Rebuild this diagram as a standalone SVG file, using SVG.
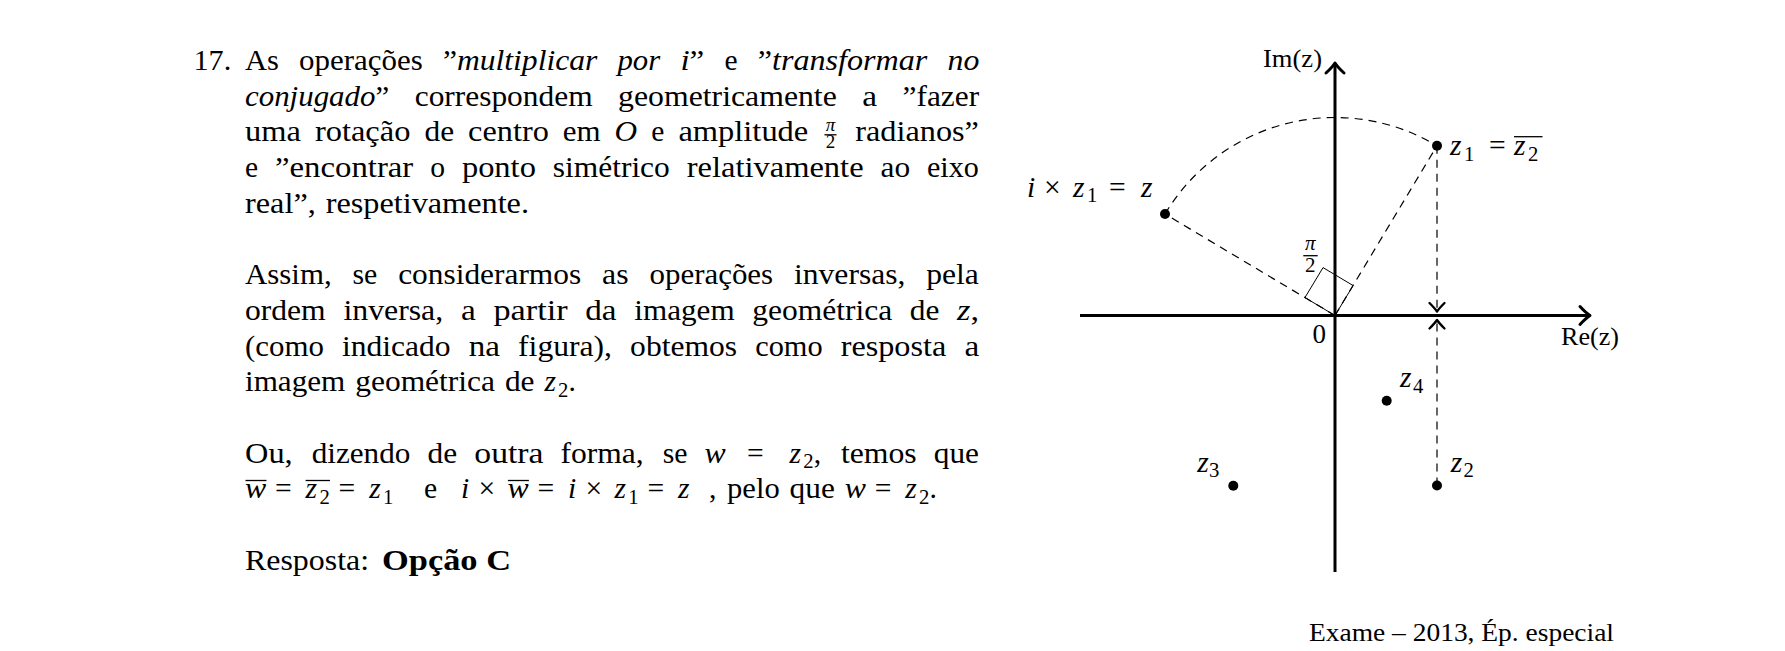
<svg xmlns="http://www.w3.org/2000/svg" width="1785" height="651" viewBox="0 0 1785 651">
<style>
text{font-family:"Liberation Serif","Times New Roman",serif;font-size:29.6px;fill:#000}
.it{font-style:italic}
.b{font-weight:bold}
.sub{font-size:20.7px}
.sm{font-size:24.5px}
.fr{font-size:19px}
.dash{fill:none;stroke:#000;stroke-width:1.2;stroke-dasharray:8 6}
.ax{fill:none;stroke:#000;stroke-width:3}
.thin{fill:none;stroke:#000;stroke-width:1}
.ovl{stroke:#000;stroke-width:1.3}
.dot{fill:#000}
</style>
<defs>
<marker id="axArrow" markerUnits="userSpaceOnUse" markerWidth="24" markerHeight="24" viewBox="-12 -12 24 24" refX="0" refY="0" orient="auto" overflow="visible">
<path d="M -9 -9 Q -3 -2.5 1 0 Q -3 2.5 -9 9" fill="none" stroke="#000" stroke-width="3" stroke-linecap="round" stroke-linejoin="round"/>
</marker>
<marker id="dashArrow" markerUnits="userSpaceOnUse" markerWidth="20" markerHeight="20" viewBox="-10 -10 20 20" refX="0" refY="0" orient="auto" overflow="visible">
<path d="M -8 -7.5 Q -2.5 -2 0.5 0 Q -2.5 2 -8 7.5" fill="none" stroke="#000" stroke-width="2.3" stroke-linecap="round" stroke-linejoin="round"/>
</marker>
</defs>
<rect width="1785" height="651" fill="#fff"/>

<g id="body-text">
<!-- line 1 -->
<text x="193.5" y="70" textLength="37.8" lengthAdjust="spacingAndGlyphs">17.</text>
<text x="245" y="70" textLength="33.9" lengthAdjust="spacingAndGlyphs">As</text>
<text x="299.1" y="70" textLength="123.6" lengthAdjust="spacingAndGlyphs">operações</text>
<text x="442.9" y="70" textLength="154.4" lengthAdjust="spacingAndGlyphs">”<tspan class="it">multiplicar</tspan></text>
<text x="617.5" y="70" class="it" textLength="42.7" lengthAdjust="spacingAndGlyphs">por</text>
<text x="680.4" y="70" textLength="23.9" lengthAdjust="spacingAndGlyphs"><tspan class="it">i</tspan>”</text>
<text x="724.5" y="70" textLength="13.1" lengthAdjust="spacingAndGlyphs">e</text>
<text x="757.8" y="70" textLength="169.5" lengthAdjust="spacingAndGlyphs">”<tspan class="it">transformar</tspan></text>
<text x="947.5" y="70" class="it" textLength="31.8" lengthAdjust="spacingAndGlyphs">no</text>
<!-- line 2 -->
<text x="245" y="105.7" textLength="144.2" lengthAdjust="spacingAndGlyphs"><tspan class="it">conjugado</tspan>”</text>
<text x="414.7" y="105.7" textLength="177.9" lengthAdjust="spacingAndGlyphs">correspondem</text>
<text x="618.1" y="105.7" textLength="218.7" lengthAdjust="spacingAndGlyphs">geometricamente</text>
<text x="862.3" y="105.7" textLength="14.8" lengthAdjust="spacingAndGlyphs">a</text>
<text x="902.6" y="105.7" textLength="76.5" lengthAdjust="spacingAndGlyphs">”fazer</text>
<!-- line 3 -->
<text x="245" y="141.4" textLength="55.9" lengthAdjust="spacingAndGlyphs">uma</text>
<text x="314.9" y="141.4" textLength="95.5" lengthAdjust="spacingAndGlyphs">rotação</text>
<text x="424.5" y="141.4" textLength="29.6" lengthAdjust="spacingAndGlyphs">de</text>
<text x="468.1" y="141.4" textLength="80.7" lengthAdjust="spacingAndGlyphs">centro</text>
<text x="562.8" y="141.4" textLength="37.8" lengthAdjust="spacingAndGlyphs">em</text>
<text x="614.6" y="141.4" class="it" textLength="22.6" lengthAdjust="spacingAndGlyphs">O</text>
<text x="651.3" y="141.4" textLength="13.1" lengthAdjust="spacingAndGlyphs">e</text>
<text x="678.4" y="141.4" textLength="129.9" lengthAdjust="spacingAndGlyphs">amplitude</text>
<text x="830.5" y="131" class="it fr" text-anchor="middle">π</text>
<line x1="824.5" y1="134.8" x2="836.5" y2="134.8" class="ovl" stroke-width="1.1"/>
<text x="830.5" y="147.5" class="fr" text-anchor="middle">2</text>
<text x="855.3" y="141.4" textLength="123.6" lengthAdjust="spacingAndGlyphs">radianos”</text>
<!-- line 4 -->
<text x="245" y="177.1" textLength="13.1" lengthAdjust="spacingAndGlyphs">e</text>
<text x="275" y="177.1" textLength="138.3" lengthAdjust="spacingAndGlyphs">”encontrar</text>
<text x="430.2" y="177.1" textLength="14.8" lengthAdjust="spacingAndGlyphs">o</text>
<text x="461.9" y="177.1" textLength="74" lengthAdjust="spacingAndGlyphs">ponto</text>
<text x="552.8" y="177.1" textLength="117" lengthAdjust="spacingAndGlyphs">simétrico</text>
<text x="686.7" y="177.1" textLength="176.9" lengthAdjust="spacingAndGlyphs">relativamente</text>
<text x="880.5" y="177.1" textLength="29.6" lengthAdjust="spacingAndGlyphs">ao</text>
<text x="927" y="177.1" textLength="51.8" lengthAdjust="spacingAndGlyphs">eixo</text>
<!-- line 5 -->
<text x="245" y="212.8" textLength="70.8" lengthAdjust="spacingAndGlyphs">real”,</text>
<text x="325.7" y="212.8" textLength="203.3" lengthAdjust="spacingAndGlyphs">respetivamente.</text>
<!-- line 6 -->
<text x="245" y="284.2" textLength="86.6" lengthAdjust="spacingAndGlyphs">Assim,</text>
<text x="352.5" y="284.2" textLength="24.8" lengthAdjust="spacingAndGlyphs">se</text>
<text x="398.2" y="284.2" textLength="183" lengthAdjust="spacingAndGlyphs">considerarmos</text>
<text x="602.1" y="284.2" textLength="26.5" lengthAdjust="spacingAndGlyphs">as</text>
<text x="649.5" y="284.2" textLength="123.6" lengthAdjust="spacingAndGlyphs">operações</text>
<text x="794" y="284.2" textLength="111.4" lengthAdjust="spacingAndGlyphs">inversas,</text>
<text x="926.3" y="284.2" textLength="52.6" lengthAdjust="spacingAndGlyphs">pela</text>
<!-- line 7 -->
<text x="245" y="319.9" textLength="80.7" lengthAdjust="spacingAndGlyphs">ordem</text>
<text x="343.4" y="319.9" textLength="99.8" lengthAdjust="spacingAndGlyphs">inversa,</text>
<text x="460.9" y="319.9" textLength="14.8" lengthAdjust="spacingAndGlyphs">a</text>
<text x="493.4" y="319.9" textLength="74.2" lengthAdjust="spacingAndGlyphs">partir</text>
<text x="585.3" y="319.9" textLength="31.3" lengthAdjust="spacingAndGlyphs">da</text>
<text x="634.3" y="319.9" textLength="100.3" lengthAdjust="spacingAndGlyphs">imagem</text>
<text x="752.3" y="319.9" textLength="139.8" lengthAdjust="spacingAndGlyphs">geométrica</text>
<text x="909.8" y="319.9" textLength="29.6" lengthAdjust="spacingAndGlyphs">de</text>
<text x="957.1" y="319.9" textLength="22" lengthAdjust="spacingAndGlyphs"><tspan class="it">z</tspan>,</text>
<!-- line 8 -->
<text x="245" y="355.6" textLength="78.9" lengthAdjust="spacingAndGlyphs">(como</text>
<text x="342" y="355.6" textLength="108.6" lengthAdjust="spacingAndGlyphs">indicado</text>
<text x="468.7" y="355.6" textLength="31.3" lengthAdjust="spacingAndGlyphs">na</text>
<text x="518.1" y="355.6" textLength="93.9" lengthAdjust="spacingAndGlyphs">figura),</text>
<text x="630.1" y="355.6" textLength="107" lengthAdjust="spacingAndGlyphs">obtemos</text>
<text x="755.2" y="355.6" textLength="67.4" lengthAdjust="spacingAndGlyphs">como</text>
<text x="840.7" y="355.6" textLength="105.6" lengthAdjust="spacingAndGlyphs">resposta</text>
<text x="964.4" y="355.6" textLength="14.8" lengthAdjust="spacingAndGlyphs">a</text>
<!-- line 9 -->
<text x="245" y="391.3" textLength="100.3" lengthAdjust="spacingAndGlyphs">imagem</text>
<text x="355.2" y="391.3" textLength="139.8" lengthAdjust="spacingAndGlyphs">geométrica</text>
<text x="504.9" y="391.3" textLength="29.6" lengthAdjust="spacingAndGlyphs">de</text>
<text x="544.4" y="391.3" class="it">z</text>
<text x="558" y="397" class="sub">2</text>
<text x="568.6" y="391.3">.</text>
<!-- line 10 -->
<text x="245" y="462.7" textLength="47.7" lengthAdjust="spacingAndGlyphs">Ou,</text>
<text x="311.7" y="462.7" textLength="98.7" lengthAdjust="spacingAndGlyphs">dizendo</text>
<text x="427.5" y="462.7" textLength="29.6" lengthAdjust="spacingAndGlyphs">de</text>
<text x="474.3" y="462.7" textLength="69.2" lengthAdjust="spacingAndGlyphs">outra</text>
<text x="560.6" y="462.7" textLength="83.1" lengthAdjust="spacingAndGlyphs">forma,</text>
<text x="662.7" y="462.7" textLength="24.8" lengthAdjust="spacingAndGlyphs">se</text>
<text x="704.6" y="462.7" class="it" textLength="21.2" lengthAdjust="spacingAndGlyphs">w</text>
<text x="747" y="462.7">=</text>
<text x="789.5" y="462.7" class="it">z</text>
<text x="803.3" y="468.4" class="sub">2</text>
<text x="813.7" y="462.7">,</text>
<text x="840.9" y="462.7" textLength="75.8" lengthAdjust="spacingAndGlyphs">temos</text>
<text x="933.8" y="462.7" textLength="45.2" lengthAdjust="spacingAndGlyphs">que</text>
<!-- line 11 -->
<text x="245" y="498.4" class="it" textLength="21.2" lengthAdjust="spacingAndGlyphs">w</text>
<line x1="245.5" y1="480.5" x2="266.5" y2="480.5" class="ovl"/>
<text x="275" y="498.4">=</text>
<text x="305.6" y="498.4" class="it">z</text>
<text x="319.4" y="504.1" class="sub">2</text>
<line x1="305.6" y1="480.5" x2="330" y2="480.5" class="ovl"/>
<text x="338.6" y="498.4">=</text>
<text x="369.2" y="498.4" class="it">z</text>
<text x="383" y="504.1" class="sub">1</text>
<text x="424" y="498.4">e</text>
<text x="461" y="498.4" class="it">i</text>
<text x="478.5" y="498.4">×</text>
<text x="507.4" y="498.4" class="it" textLength="21.2" lengthAdjust="spacingAndGlyphs">w</text>
<line x1="507.9" y1="480.5" x2="528.9" y2="480.5" class="ovl"/>
<text x="537.4" y="498.4">=</text>
<text x="568" y="498.4" class="it">i</text>
<text x="585.5" y="498.4">×</text>
<text x="614.4" y="498.4" class="it">z</text>
<text x="628.2" y="504.1" class="sub">1</text>
<text x="647.4" y="498.4">=</text>
<text x="678" y="498.4" class="it">z</text>
<text x="709" y="498.4">,</text>
<text x="727.1" y="498.4" textLength="52.6" lengthAdjust="spacingAndGlyphs">pelo</text>
<text x="789.6" y="498.4" textLength="45.2" lengthAdjust="spacingAndGlyphs">que</text>
<text x="844.7" y="498.4" class="it" textLength="21.2" lengthAdjust="spacingAndGlyphs">w</text>
<text x="874.7" y="498.4">=</text>
<text x="905.3" y="498.4" class="it">z</text>
<text x="919.1" y="504.1" class="sub">2</text>
<text x="929.5" y="498.4">.</text>
<!-- line 12 -->
<text x="245" y="569.8" textLength="124.1" lengthAdjust="spacingAndGlyphs">Resposta:</text>
<text x="382" y="569.8" class="b" textLength="129" lengthAdjust="spacingAndGlyphs">Opção C</text>
</g>

<g id="source">
<text x="1309" y="641" style="font-size:25.5px" textLength="305" lengthAdjust="spacingAndGlyphs">Exame – 2013, Ép. especial</text>
</g>

<g id="axes">
<line x1="1080" y1="315.5" x2="1589" y2="315.5" class="ax" marker-end="url(#axArrow)"/>
<line x1="1335" y1="572" x2="1335" y2="64" class="ax" marker-end="url(#axArrow)"/>
<text x="1263" y="67" class="sm" textLength="59" lengthAdjust="spacingAndGlyphs">Im(z)</text>
<text x="1561" y="345" class="sm" textLength="58" lengthAdjust="spacingAndGlyphs">Re(z)</text>
<text x="1326" y="343" style="font-size:27px" text-anchor="end">0</text>
</g>

<g id="connectors">
<path d="M 1165 214 A 198 198 0 0 1 1437 145.8" class="dash"/>
<line x1="1335" y1="315.5" x2="1165" y2="214" class="dash"/>
<line x1="1335" y1="315.5" x2="1437" y2="145.8" class="dash"/>
<line x1="1437" y1="145.8" x2="1437" y2="311" class="dash" marker-end="url(#dashArrow)"/>
<line x1="1437" y1="485.5" x2="1437" y2="320.5" class="dash" marker-end="url(#dashArrow)"/>
<polygon points="1335,315.5 1304.95,297.56 1323.05,267.6 1353.1,285.55" class="thin"/>
<text x="1310.3" y="250" class="it" style="font-size:21px" text-anchor="middle">π</text>
<line x1="1303.3" y1="255.7" x2="1317.7" y2="255.7" class="ovl" stroke-width="1.1"/>
<text x="1310.3" y="272.3" style="font-size:21px" text-anchor="middle">2</text>
</g>

<g id="node-z">
<circle cx="1165" cy="214" r="5" class="dot"/>
<text x="1027" y="196.7" class="it">i</text>
<text x="1044" y="196.7">×</text>
<text x="1073" y="196.7" class="it">z</text>
<text x="1087" y="202.4" class="sub">1</text>
<text x="1109" y="196.7">=</text>
<text x="1141" y="196.7" class="it">z</text>
</g>

<g id="node-z1">
<circle cx="1437" cy="145.8" r="5" class="dot"/>
<text x="1450" y="155" class="it">z</text>
<text x="1464" y="160.5" class="sub">1</text>
<text x="1489" y="155">=</text>
<text x="1514" y="155" class="it">z</text>
<text x="1528" y="160.5" class="sub">2</text>
<line x1="1514" y1="136.7" x2="1542.5" y2="136.7" class="ovl"/>
</g>

<g id="node-z2">
<circle cx="1437" cy="485.5" r="5" class="dot"/>
<text x="1450.7" y="471.7" class="it">z</text>
<text x="1463.5" y="477" class="sub">2</text>
</g>

<g id="node-z3">
<circle cx="1233.3" cy="485.7" r="5" class="dot"/>
<text x="1197.3" y="471.7" class="it">z</text>
<text x="1209" y="477" class="sub">3</text>
</g>

<g id="node-z4">
<circle cx="1386.7" cy="400.7" r="5" class="dot"/>
<text x="1400" y="387.3" class="it">z</text>
<text x="1413" y="392.6" class="sub">4</text>
</g>
</svg>
